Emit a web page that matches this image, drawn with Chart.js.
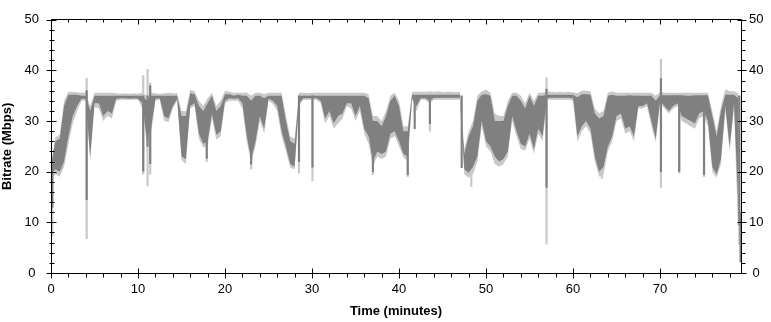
<!DOCTYPE html>
<html><head><meta charset="utf-8">
<script src="https://cdn.jsdelivr.net/npm/chart.js@4.4.1/dist/chart.umd.min.js"></script>
<style>html,body{margin:0;padding:0;background:#fff;}#wrap{width:771px;height:322px;}</style>
</head><body><div id="wrap"><canvas id="c" width="771" height="322"></canvas></div>
<script>
// Sampling grid (minutes) for the band series
const sampleStep = 0.5;
// Dark trace: upper and lower envelope per half-minute (Mbps)
const darkHi = [21,26,26.5,33,35.2,35.2,35.2,35,35,32, 35,35,35,35,35,35,35,35,35,35, 35,35,34,35,35,35,35,35,35,35, 31,31,35.5,35.3,33,32,33.5,35,32,33, 35.3,35.3,35,35.2,35,35,34,35,35,34.5, 35,35,35,35,30,26,25.5,35,35,35, 35,35,35,35,35,35,35,35,35,35, 35,35,35,34.5,30,30,29,31,34,35, 33,28,28,35.2,35.2,35.2,35.2,35.2,35.2,35.2, 35.2,35.2,35.2,35.2,35.2,23.5,27,29,34,35.2, 35.3,35,30,30,30,33,35,35,34,32.5, 35,33,35,35,35.2,35.2,35.2,35.2,35.2,35.2, 35.2,34.7,35.3,35.3,35.2,31.5,30.5,31,35,35.2, 35,35,35,35.1,35,35,35,35,35,34, 35.1,35.1,35.1,35.1,35.1,35.1,35,35,35.1,35.1, 35.1,35.1,31,27,32,35.2,35.2,35.2,34.5];
const darkLo = [19.5,20.5,20,22,27,31,33,34.4,34.4,23, 33.5,33.5,31,32,31.5,34.4,34.5,34.5,34.4,34.5, 34.4,33.5,26.5,28.5,34.4,34.5,31,30.5,33,34.4, 23,22.5,33,33.5,27.5,25.5,26,31.5,27.3,28, 34,34.5,34.4,34.5,33.5,27,22.5,26,31,28.5, 34.4,34,33,28,25,21.5,21,33.5,34.5,34.5, 34.5,34.5,34,30.5,32,29.5,31,31.5,33.5,33.5, 31,33,28.5,27,22,24,23.5,24,27.5,28, 26,23.5,23,34.5,33,34.5,34.5,34,34.6,34.6, 34.6,34.6,34.6,34.6,34.6,20.5,19.8,21,23,30, 26,25,23,22,22.5,24,31,28,25.5,25, 27.5,24.5,28.5,27,34.5,34.6,34.6,34.6,34.6,34.6, 34.5,27,29,30,28.5,23,20,21,25,27, 31,31.5,28.5,29,27,33,33,33.5,30,26.5, 34,33,32,33,33.5,31,30.5,30,29.5,31.5, 32,30,21,19.5,22.5,33,25,33.5,13];
// Light trace (max / min envelope) per half-minute (Mbps)
const lightHi = [22,26.8,27.3,34,35.8,35.8,35.7,35.6,35.6,33, 35.6,35.6,35.6,35.6,35.6,35.5,35.4,35.5,35.4,35.5, 35.4,35.6,35,35.6,35.5,35.4,35.5,35.6,35.5,35.5, 32,32,36.2,35.9,34,33,34.5,35.6,33,34, 36,35.8,35.6,35.6,35.6,35.6,35,35.6,35.6,35.3, 35.6,35.6,35.6,35.6,31,27,26.5,35.6,35.6,35.5, 35.6,35.6,35.6,35.6,35.6,35.6,35.6,35.6,35.6,35.6, 35.6,35.6,35.6,35.3,31,31,30,32,35,35.6, 34,29,29,35.8,35.8,35.8,35.8,35.9,35.8,35.9, 35.7,35.8,35.8,35.7,35.8,24.5,28,30,35,35.9, 36.2,35.6,31.5,31,31,34,35.6,35.6,35,33.5, 35.6,34,35.6,35.6,35.9,35.8,35.7,35.8,35.7,35.8, 35.7,35.5,36,36,35.9,32.5,31.5,32,35.6,35.9, 35.6,35.6,35.6,35.6,35.6,35.6,35.6,35.6,35.6,35, 35.8,35.6,35.6,35.6,35.6,35.6,35.6,35.6,35.6,35.6, 35.6,35.6,32,28,33,36.3,35.9,35.9,35.5];
const lightLo = [18.5,19.5,19,21,25.5,29.5,32,34,34,22, 32.8,32.5,30,31,30.5,34,34.2,34.2,34.2,34.2, 34.2,32.5,25.5,27.5,34,34.2,30,29.8,32.5,34, 22.3,21.5,32.5,33,26.5,24.8,25,30.5,26.3,27, 33.5,34,34,34,32.5,26,21.8,25,30,27.5, 34,33.4,32,27,24,20.8,20.5,33,34.2,34.2, 34.2,34.2,33.5,29.5,31,28.5,29.5,30.5,33,32.5, 30,32,27.5,25.5,21,23,22.5,23,26.5,27, 25,22.8,22,34.2,32,34.2,34.2,33.5,34.2,34.2, 34.2,34.2,34.2,34.2,34.2,19.5,18.8,19.5,22,29, 25,24,21.5,21,21.5,23,30,27,24.5,24.2, 26.5,23.5,27.5,26,34.2,34.2,34.2,34.2,34.2,34.2, 34,25.8,28,29,27.5,22,19,19.5,24,26, 30,30.5,27.5,28,26,32.5,32.5,33,29,25.8, 33.5,32.5,31.5,32.5,33,30,29.5,29,28.5,30.5, 31,29,20,18.8,21.5,32,24,32.5,6];
// Isolated one-sample spikes (minutes, Mbps)
const darkSpikeT  = [0.15,4.1,10.6,11.1,11.4,17.9,23.0,28.5,30.05,37.0,41.0,41.8,43.55,47.2,56.95,70.1,72.2,75.05,79.1,79.25];
const darkSpikeHi = [21,36,35,35,37,33,33,35,35,30,28,35,35,35,36.3,38.4,35,35,35,12];
const darkSpikeLo = [13,14.5,20.1,25,21.6,22.7,21.5,22,20.9,20,19.4,28.5,29.5,20.8,16.9,20,20,19.4,9.5,2.2];
const lightSpikeT  = [0.15,4.1,10.6,11.1,11.4,17.9,23.0,28.5,30.05,37.0,41.0,43.55,48.3,56.95,63.3,70.1,72.2,75.05,79.1];
const lightSpikeHi = [21,38.5,39,40.2,37.5,33,33,35,35,30,28,35,28,38.6,31,42.2,35,35,35];
const lightSpikeLo = [7.3,6.8,19.5,17.2,19.5,22,20.5,19.7,18.2,19.4,19,28,17.1,5.7,18.7,16.9,19.7,19,5.7];
// Axis ticks
const xTickVals = [0,10,20,30,40,50,60,70];
const yTickVals = [0,10,20,30,40,50];
const xMax = 79.3;

const times = darkHi.map((_, i) => i * sampleStep);
const pts = arr => arr.map((v, i) => ({x: times[i], y: v}));
const bars = (t, hi, lo) => t.map((x, i) => ({x: x, y: [lo[i], hi[i]]}));

const DARK = '#808080', LIGHT = '#c8c8c8', NONE = 'rgba(0,0,0,0)';
const tickFont = {family: '"Liberation Sans", Arial, sans-serif', size: 13};
const titleFont = {family: '"Liberation Sans", Arial, sans-serif', size: 13, weight: 'bold'};

const frame = {
  id: 'frame',
  afterDraw(chart) {
    const {ctx, chartArea: a, scales} = chart;
    const L = Math.floor(a.left) + 0.5, R = Math.floor(a.right) + 0.5;
    const T = Math.floor(a.top) + 0.5, B = Math.floor(a.bottom) + 0.5;
    ctx.save();
    ctx.strokeStyle = '#000'; ctx.lineWidth = 1;
    ctx.beginPath();
    ctx.moveTo(L, T); ctx.lineTo(R, T); ctx.lineTo(R, B); ctx.lineTo(L, B); ctx.closePath();
    ctx.stroke();
    ctx.beginPath();
    for (let v = 0; v <= 78; v += 2) {
      const p = Math.round(scales.x.getPixelForValue(v)) + 0.5;
      const major = v % 10 === 0;
      if (major) { ctx.moveTo(p, B - 5); ctx.lineTo(p, B + 5); ctx.moveTo(p, T); ctx.lineTo(p, T + 5); }
      else { ctx.moveTo(p, B); ctx.lineTo(p, B + 4); ctx.moveTo(p, T); ctx.lineTo(p, T + 3); }
    }
    for (let v = 0; v <= 50; v += 2) {
      const p = Math.round(scales.y.getPixelForValue(v)) + 0.5;
      const major = v % 10 === 0;
      if (major) { ctx.moveTo(L - 5, p); ctx.lineTo(L + 5, p); ctx.moveTo(R - 4, p); ctx.lineTo(R + 5, p); }
      else { ctx.moveTo(L - 2, p); ctx.lineTo(L + 3, p); ctx.moveTo(R, p); ctx.lineTo(R + 4, p); }
    }
    ctx.stroke();
    ctx.restore();
  }
};

new Chart(document.getElementById('c'), {
  type: 'line',
  data: {
    datasets: [
      {data: pts(darkLo), borderColor: NONE, borderWidth: 0, pointRadius: 0, fill: false, order: 0},
      {data: pts(darkHi), borderColor: NONE, borderWidth: 0, pointRadius: 0, backgroundColor: DARK, fill: '-1', order: 0},
      {data: pts(lightLo), borderColor: NONE, borderWidth: 0, pointRadius: 0, fill: false, order: 2},
      {data: pts(lightHi), borderColor: NONE, borderWidth: 0, pointRadius: 0, backgroundColor: LIGHT, fill: '-1', order: 2},
      {type: 'bar', data: bars(darkSpikeT, darkSpikeHi, darkSpikeLo), backgroundColor: DARK, barThickness: 1.5, grouped: false, order: 1},
      {type: 'bar', data: bars(lightSpikeT, lightSpikeHi, lightSpikeLo), backgroundColor: LIGHT, barThickness: 1.5, grouped: false, order: 3}
    ]
  },
  options: {
    responsive: false, animation: false, devicePixelRatio: 1,
    layout: {padding: 0},
    plugins: {legend: {display: false}, tooltip: {enabled: false}},
    elements: {line: {tension: 0}},
    scales: {
      x: {type: 'linear', position: 'bottom', min: 0, max: xMax, offset: false,
          afterBuildTicks: s => { s.ticks = xTickVals.map(v => ({value: v})); },
          afterFit: s => { s.height = 49; },
          ticks: {font: tickFont, color: '#000', padding: 9, maxRotation: 0, autoSkip: false, includeBounds: false},
          grid: {display: false, drawTicks: false, tickLength: 0}, border: {display: false},
          title: {display: true, text: 'Time (minutes)', font: titleFont, color: '#000', padding: {top: 0, bottom: 3}}},
      x2: {type: 'linear', position: 'top', min: 0, max: xMax, display: true, offset: false,
          afterFit: s => { s.height = 11; },
          ticks: {display: false}, grid: {display: false, drawTicks: false}, border: {display: false}},
      y: {type: 'linear', position: 'left', min: 0, max: 50,
          afterBuildTicks: s => { s.ticks = yTickVals.map(v => ({value: v})); },
          afterFit: s => { s.width = 51; },
          ticks: {font: tickFont, color: '#000', padding: 12, crossAlign: 'center'},
          grid: {display: false, drawTicks: false, tickLength: 0}, border: {display: false},
          title: {display: true, text: 'Bitrate (Mbps)', font: titleFont, color: '#000', padding: {top: 0, bottom: 0}}},
      y2: {type: 'linear', position: 'right', min: 0, max: 50,
          afterBuildTicks: s => { s.ticks = yTickVals.map(v => ({value: v})); },
          afterFit: s => { s.width = 30; },
          ticks: {font: tickFont, color: '#000', padding: 8, crossAlign: 'center'},
          grid: {display: false, drawTicks: false, tickLength: 0}, border: {display: false}}
    }
  },
  plugins: [frame]
});
</script></body></html>
